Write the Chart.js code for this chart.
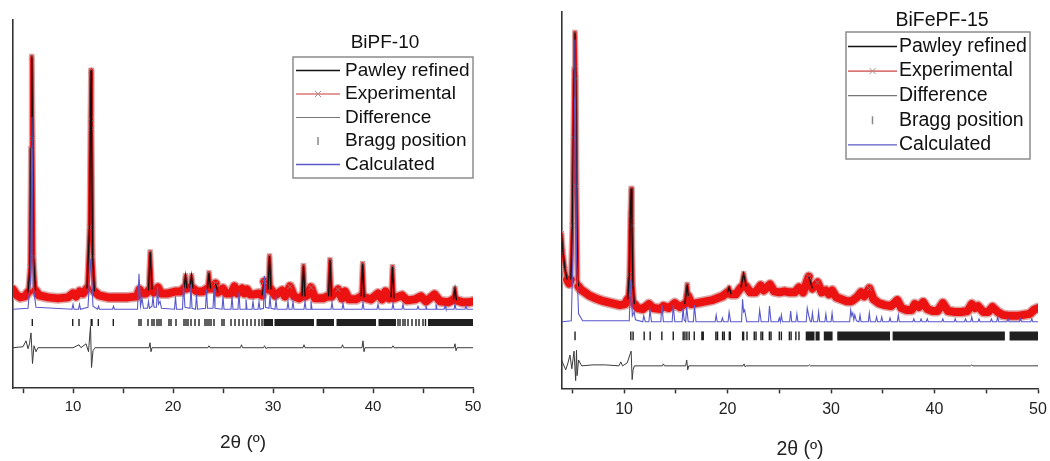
<!DOCTYPE html>
<html>
<head>
<meta charset="utf-8">
<script src="https://cdn.jsdelivr.net/npm/chart.js@4.4.1/dist/chart.umd.min.js"></script>
<style>
  html, body { margin: 0; padding: 0; background: #fff; }
  #wrap { position: relative; width: 1050px; height: 461px; }
  canvas { position: absolute; top: 0; }
  #c-left { left: 0; }
  #c-right { left: 525px; }
</style>
</head>
<body>
<div id="wrap">
  <canvas id="c-left" width="525" height="461"></canvas>
  <canvas id="c-right" width="525" height="461"></canvas>
</div>
<script>
'use strict';

// ---- datos: [2theta, intensidad (u.a.)] ----

var legendLabels = ['Pawley refined', 'Experimental', 'Difference', 'Bragg position', 'Calculated'];
var xTickStep = 5;
var xLabelStep = 10;

// BiPF-10
var bipfExp = [
  [4.0,100],[4.3,95],[4.7,92],[5.2,93],[5.5,97],[5.7,123],[5.8,243],[5.88,336],[5.96,253],[6.05,133],
  [6.25,99],[6.6,94],[7.5,92],[8.5,91],[9.5,92],[10.0,96],[10.3,93],[10.65,98],[11.0,96],[11.4,101],
  [11.65,163],[11.75,273],[11.8,322],[11.86,263],[11.96,133],[12.15,98],[12.6,94],[13.5,92],[14.5,92],
  [15.5,92],[16.4,93],[16.65,100],[16.9,96],[17.3,96],[17.55,99],[17.72,138],[17.9,100],[18.1,97],
  [18.5,102],[18.8,96],[19.5,96],[20.3,98],[20.8,98],[21.1,101],[21.25,114],[21.4,101],[21.7,102],
  [21.85,114],[22.0,101],[22.4,98],[23.0,98],[23.45,101],[23.6,117],[23.75,101],[24.05,101],[24.25,106],
  [24.5,97],[25.0,101],[25.3,96],[25.8,96],[26.15,103],[26.45,96],[26.9,101],[27.15,96],[27.4,100],
  [27.7,95],[28.1,95],[28.6,96],[28.9,94],[29.15,108],[29.4,103],[29.5,100],[29.65,134],[29.8,100],
  [30.2,94],[30.9,99],[31.2,93],[31.7,103],[32.1,93],[32.6,91],[32.9,93],[33.05,124],[33.2,93],
  [33.4,94],[33.8,102],[34.2,91],[35.0,91],[35.45,93],[35.55,93],[35.7,130],[35.85,93],[36.5,100],
  [36.9,91],[37.2,98],[37.6,90],[38.3,90],[38.82,93],[38.97,126],[39.12,92],[39.8,90],[40.5,96],
  [40.9,90],[41.25,98],[41.6,91],[41.8,92],[41.95,123],[42.1,91],[42.9,94],[43.4,89],[44.2,90],
  [44.8,93],[45.3,88],[46.15,95],[46.7,88],[47.5,87],[47.9,89],[48.05,90],[48.2,101],[48.35,89],
  [49.0,87],[49.5,87],[50.0,88]
];
var bipfPawley = bipfExp; // el ajuste coincide con los puntos medidos a esta escala
var bipfCalc = [
  [4.0,80],[5.5,81],[5.78,113],[5.85,243],[5.89,275],[5.94,233],[6.02,103],[6.3,82],[9.9,80],[10.0,85],
  [10.1,80],[10.55,80],[10.65,85],[10.75,80],[11.5,82],[11.7,118],[11.78,131],[11.86,113],[12.0,83],
  [12.45,80],[12.55,83],[12.65,80],[13.95,80],[14.05,83],[14.15,80],[16.45,80],[16.6,116],[16.75,83],
  [16.9,91],[17.05,81],[17.45,81],[17.55,88],[17.65,81],[17.9,83],[18.0,93],[18.1,82],[18.35,82],
  [18.45,103],[18.55,85],[18.7,88],[18.85,81],[20.15,80],[20.25,93],[20.35,80],[20.95,80],[21.05,105],
  [21.2,82],[21.7,81],[21.8,105],[21.9,81],[22.25,80],[22.35,95],[22.45,80],[23.25,81],[23.35,100],
  [23.45,81],[24.0,81],[24.1,101],[24.2,81],[24.9,80],[25.0,93],[25.1,80],[25.8,80],[25.9,93],[26.0,80],
  [26.5,80],[26.6,97],[26.7,80],[27.2,80],[27.3,90],[27.4,80],[27.9,80],[28.0,88],[28.1,80],[28.5,80],
  [28.6,88],[28.7,80],[29.05,81],[29.15,114],[29.25,82],[29.6,81],[29.7,93],[29.8,81],[30.2,80],
  [30.3,90],[30.4,80],[31.4,80],[31.5,88],[31.6,80],[31.9,80],[32.0,88],[32.1,80],[33.1,80],[33.2,88],
  [33.3,80],[33.7,80],[33.8,88],[33.9,80],[35.8,80],[35.9,87],[36.0,80],[36.9,80],[37.0,86],[37.1,80],
  [38.9,80],[39.0,87],[39.1,80],[40.4,80],[40.5,85],[40.6,80],[41.9,80],[42.0,86],[42.1,80],[42.9,80],
  [43.0,85],[43.1,80],[44.4,80],[44.5,83],[44.6,80],[45.2,80],[45.3,83],[45.4,80],[46.2,80],[46.3,85],
  [46.4,80],[47.1,80],[47.2,83],[47.3,80],[48.1,80],[48.2,85],[48.3,80],[49.2,80],[49.3,83],[49.4,80],
  [50.0,80]
];
var bipfDiff = [
  [4.0,41],[5.0,42],[5.3,48],[5.5,40],[5.65,45],[5.8,56],[5.95,25],[6.1,43],[6.3,37],[6.5,41],[10.0,41],
  [10.6,44],[10.8,41],[11.3,45],[11.55,37],[11.75,63],[11.85,21],[12.0,38],[12.2,41],[17.6,41],
  [17.7,46],[17.8,37],[17.9,41],[23.5,41],[23.6,43],[23.7,41],[26.75,41],[26.85,44],[26.95,41],
  [29.05,41],[29.15,43],[29.3,40],[29.4,41],[33.0,41],[33.1,44],[33.2,41],[36.85,41],[36.95,44],
  [37.05,41],[38.9,41],[39.0,48],[39.1,37],[39.2,41],[41.9,41],[42.0,43],[42.1,41],[48.1,41],
  [48.2,45],[48.3,38],[48.4,41],[50.0,41]
];
var bipfBragg = [
  5.93, 9.97, 10.6, 11.82, 11.9, 12.53, 14.03, 16.6, 16.8, 17.5, 17.9, 18.1, 18.4, 18.6, 18.8, 19.6,
  19.8, 20.3, 21.1, 21.3, 21.5, 21.8, 22.2, 22.6, 23.2, 23.4, 23.6, 23.8, 24.1, 24.9, 25.1, 25.8,
  26.2, 26.6, 27.0, 27.4, 27.8, 28.2, 28.6, 28.9, 42.5, 42.7, 43.0, 43.2, 43.5, 43.9, 44.3, 44.6,
  45.0, 45.25
];
var bipfBraggBands = [[29.05, 30.0], [30.15, 34.1], [34.35, 36.1], [36.35, 40.3], [40.55, 42.3], [45.5, 50.0]];
var bipfBraggRange = [63, 70];

// BiFePF-15
var bifepfExp = [
  [3.95,158],[4.1,138],[4.3,121],[4.5,111],[4.7,107],[4.85,111],[5.0,166],[5.1,256],[5.18,326],
  [5.25,363],[5.33,316],[5.4,206],[5.5,111],[5.6,104],[5.8,101],[6.2,98],[6.6,95],[7.2,92],[8.0,89],
  [8.8,87],[9.6,85],[10.1,86],[10.35,91],[10.5,116],[10.6,176],[10.68,204],[10.76,166],[10.85,106],
  [11.0,86],[11.3,82],[11.8,81],[12.4,86],[12.8,82],[13.5,81],[13.8,84],[14.3,82],[14.9,87],[15.4,83],
  [15.85,86],[16.0,96],[16.1,106],[16.2,94],[16.5,86],[17.0,87],[17.5,88],[18.0,89],[18.5,90],[19.0,92],
  [19.5,94],[20.0,98],[20.15,103],[20.35,96],[20.8,96],[21.3,103],[21.55,117],[21.8,104],[22.2,98],
  [22.7,98],[23.2,105],[23.5,100],[24.1,106],[24.5,99],[25.0,98],[25.5,99],[26.0,98],[26.5,98],
  [26.9,103],[27.3,98],[27.85,114],[28.2,102],[28.7,108],[29.1,98],[29.5,100],[29.8,96],[30.1,100],
  [30.5,93],[31.0,91],[31.5,89],[32.0,89],[32.5,93],[32.9,98],[33.2,94],[33.7,102],[34.1,91],[34.6,87],
  [35.2,85],[35.8,84],[36.4,90],[36.8,82],[37.3,80],[37.8,80],[38.1,86],[38.5,83],[38.9,88],[39.3,81],
  [39.8,79],[40.3,79],[40.8,87],[41.3,79],[42.0,78],[42.6,78],[43.2,79],[43.6,86],[43.9,82],[44.2,84],
  [44.7,78],[45.2,78],[45.6,83],[46.1,78],[46.6,75],[47.3,74],[48.0,74],[48.6,75],[49.2,76],[49.6,80],
  [50.0,82]
];
var bifepfPawley = bifepfExp;
var bifepfCalc = [
  [3.95,68],[4.9,69],[5.1,156],[5.2,296],[5.25,356],[5.3,286],[5.4,136],[5.6,76],[6.0,69],[10.5,69],
  [10.65,111],[10.8,74],[10.97,78],[11.1,70],[11.8,68],[11.9,74],[12.05,68],[12.4,68],[12.5,80],
  [12.65,68],[13.55,68],[13.65,85],[13.8,68],[14.65,68],[14.75,85],[14.9,68],[15.6,68],[15.7,82],
  [15.8,70],[15.95,68],[16.05,83],[16.2,68],[16.7,68],[16.8,85],[16.95,68],[18.8,68],[18.9,75],[19.0,68],
  [19.4,68],[19.5,72],[19.6,68],[20.05,68],[20.15,78],[20.3,68],[21.35,68],[21.45,91],[21.55,78],
  [21.65,80],[21.85,68],[23.0,68],[23.1,80],[23.25,68],[23.95,68],[24.05,84],[24.2,68],[24.9,68],
  [25.0,72],[25.1,68],[25.2,75],[25.3,68],[26.0,68],[26.1,79],[26.2,68],[26.6,68],[26.7,76],[26.8,68],
  [27.6,68],[27.7,82],[27.85,74],[28.0,68],[28.1,68],[28.2,77],[28.3,68],[28.7,68],[28.8,78],[28.9,68],
  [29.4,68],[29.5,76],[29.6,68],[30.0,68],[30.1,77],[30.2,68],[31.8,68],[31.9,80],[32.0,74],[32.1,77],
  [32.2,70],[32.3,75],[32.45,69],[32.7,68],[32.8,75],[32.9,68],[33.6,68],[33.7,77],[33.8,68],[34.3,68],
  [34.4,73],[34.5,68],[34.8,68],[34.9,73],[35.0,68],[35.6,68],[35.7,72],[35.8,68],[36.4,68],[36.5,75],
  [36.6,68],[37.9,68],[38.0,71],[38.1,68],[38.6,68],[38.7,71],[38.8,68],[39.2,68],[39.3,71],[39.4,68],
  [40.7,68],[40.8,71],[40.9,68],[41.9,68],[42.0,71],[42.1,68],[42.9,68],[43.0,71],[43.1,68],[43.5,68],
  [43.6,73],[43.7,68],[44.2,68],[44.3,71],[44.4,68],[45.4,68],[45.5,71],[45.6,68],[46.0,68],[46.1,73],
  [46.2,68],[47.0,68],[47.1,71],[47.2,68],[48.2,68],[48.3,71],[48.4,68],[49.3,68],[49.4,71],[49.5,68],
  [50.0,68]
];
var bifepfDiff = [
  [3.95,29],[4.36,19],[4.55,25],[4.77,34],[4.95,20],[5.16,38],[5.32,8],[5.4,39],[5.46,13],[5.6,29],
  [5.9,23],[7.0,24],[8.2,24],[9.5,23],[9.68,27],[9.85,23],[10.3,26],[10.55,34],[10.68,38],[10.78,9],
  [10.87,19],[11.0,23],[13.7,23],[13.8,25],[13.9,23],[15.95,23],[16.05,29],[16.15,19],[16.25,23],
  [21.5,23],[21.6,25],[21.7,22],[21.8,23],[27.8,23],[27.9,24],[28.0,23],[43.5,23],[43.6,24],[43.7,23],
  [50.0,23]
];
var bifepfBragg = [
  5.26, 10.65, 10.87, 11.94, 12.52, 13.65, 14.75, 15.71, 15.88, 16.07, 16.29, 16.78, 17.52, 17.65,
  18.87, 19.03, 19.52, 19.68, 20.17, 20.26, 21.88, 22.58, 22.75, 23.23, 23.39, 24.04, 24.2, 25.0,
  25.2, 25.97, 26.14, 26.6, 26.9
];
var bifepfBraggBands = [[21.39, 21.62], [27.55, 28.4], [28.5, 28.9], [29.3, 30.15], [30.6, 35.7], [35.95, 46.8], [47.25, 50.0]];
var bifepfBraggRange = [49, 58];

// ---- helpers ----
var FONT = '"Liberation Sans", Arial, Helvetica, sans-serif';
Chart.defaults.font.family = FONT;
Chart.defaults.color = '#222';

function toXY(pairs) {
  return pairs.map(function (p) { return { x: p[0], y: p[1] }; });
}

function braggTicks(positions, range) {
  var out = [];
  positions.forEach(function (p) {
    out.push({ x: p, y: range[0] }, { x: p, y: range[1] }, { x: p, y: null });
  });
  return out;
}

function braggBlocks(bands, range) {
  var mid = (range[0] + range[1]) / 2;
  var out = [];
  bands.forEach(function (b) {
    out.push({ x: b[0], y: mid }, { x: b[1], y: mid }, { x: b[1], y: null });
  });
  return out;
}

function steep(ctx) {
  var dx = Math.abs(ctx.p1.x - ctx.p0.x);
  var dy = Math.abs(ctx.p1.y - ctx.p0.y);
  return dy / Math.max(dx, 0.01) > 3;
}

// marcas "x" solo donde el punto sobresale de sus vecinos (picos)
function peakMark(c) {
  var d = c.dataset.data, i = c.dataIndex;
  if (!d[i]) return 0;
  var prev = d[i - 1] ? d[i - 1].y : d[i].y;
  var next = d[i + 1] ? d[i + 1].y : d[i].y;
  return d[i].y - Math.min(prev, next) > 8 ? 3.5 : 0;
}

// leyenda dibujada dentro del area
var xrdLegend = {
  id: 'xrdLegend',
  afterDraw: function (chart, args, o) {
    var ctx = chart.ctx;
    ctx.save();
    ctx.font = o.fontSize + 'px ' + FONT;
    ctx.fillStyle = '#111';
    ctx.textAlign = 'center';
    ctx.textBaseline = 'middle';
    ctx.fillText(o.title, o.titleX, o.titleY);

    ctx.strokeStyle = '#8c8c8c';
    ctx.lineWidth = 1.5;
    ctx.strokeRect(o.box[0], o.box[1], o.box[2], o.box[3]);

    ctx.textAlign = 'left';
    legendLabels.forEach(function (label, i) {
      var y = o.rowY0 + i * o.rowH;
      var x0 = o.sampleX[0], x1 = o.sampleX[1], xm = (x0 + x1) / 2;
      ctx.beginPath();
      if (i === 0) { ctx.strokeStyle = '#111'; ctx.lineWidth = 1.6; ctx.moveTo(x0, y); ctx.lineTo(x1, y); }
      if (i === 1) { ctx.strokeStyle = 'rgb(220,120,120)'; ctx.lineWidth = 1.6; ctx.moveTo(x0, y); ctx.lineTo(x1, y); }
      if (i === 2) { ctx.strokeStyle = '#777'; ctx.lineWidth = 1.2; ctx.moveTo(x0, y); ctx.lineTo(x1, y); }
      if (i === 3) { ctx.strokeStyle = '#888'; ctx.lineWidth = 1.5; ctx.moveTo(xm, y - 4); ctx.lineTo(xm, y + 4); }
      if (i === 4) { ctx.strokeStyle = 'rgb(90,90,200)'; ctx.lineWidth = 1.3; ctx.moveTo(x0, y); ctx.lineTo(x1, y); }
      ctx.stroke();
      if (i === 1) {
        ctx.beginPath();
        ctx.strokeStyle = 'rgb(170,140,140)';
        ctx.lineWidth = 1;
        ctx.moveTo(xm - 3, y - 3); ctx.lineTo(xm + 3, y + 3);
        ctx.moveTo(xm - 3, y + 3); ctx.lineTo(xm + 3, y - 3);
        ctx.stroke();
      }
      ctx.fillStyle = '#111';
      ctx.fillText(label, o.textX, y);
    });
    ctx.restore();
  }
};

function makeChart(canvasId, s) {
  var ctx = document.getElementById(canvasId).getContext('2d');
  return new Chart(ctx, {
    type: 'line',
    data: {
      datasets: [
        { label: 'Calculated', data: toXY(s.calc), borderColor: 'rgb(88,88,205)', borderWidth: 1.1, order: 1 },
        {
          label: 'Pawley refined', data: toXY(s.pawley), borderWidth: 1.3, order: 2,
          borderColor: '#111',
          segment: { borderColor: function (c) { return steep(c) ? '#111' : 'rgba(0,0,0,0)'; } }
        },
        {
          label: 'Experimental marks', data: toXY(s.exp), showLine: false, order: 3,
          pointRadius: peakMark, pointStyle: 'crossRot', pointBorderWidth: 1,
          pointBorderColor: 'rgba(165,120,120,0.85)'
        },
        {
          label: 'Experimental', data: toXY(s.exp), borderColor: 'rgb(236,18,18)', order: 4,
          borderWidth: 8, borderJoinStyle: 'round', borderCapStyle: 'round',
          segment: { borderWidth: function (c) { return steep(c) ? 3.5 : 8; } }
        },
        {
          label: 'Experimental halo', data: toXY(s.exp), borderColor: 'rgba(215,150,150,0.85)', order: 5,
          borderWidth: 11, borderJoinStyle: 'round', borderCapStyle: 'round',
          segment: { borderWidth: function (c) { return steep(c) ? 6 : 11; } }
        },
        { label: 'Difference', data: toXY(s.diff), borderColor: '#3c3c3c', borderWidth: 1, order: 6 },
        {
          label: 'Bragg position', data: braggTicks(s.bragg, s.braggRange), borderColor: '#1e1e1e',
          borderWidth: 1.4, spanGaps: false, order: 7, borderCapStyle: 'butt'
        },
        {
          label: 'Bragg bands', data: braggBlocks(s.bands, s.braggRange), borderColor: '#202020',
          borderWidth: s.braggRange[1] - s.braggRange[0], spanGaps: false, order: 8, borderCapStyle: 'butt'
        }
      ]
    },
    options: {
      responsive: false,
      animation: false,
      devicePixelRatio: 1,
      elements: { point: { radius: 0, hoverRadius: 0 }, line: { tension: 0 } },
      layout: { autoPadding: false, padding: s.padding },
      plugins: {
        legend: { display: false },
        tooltip: { enabled: false },
        xrdLegend: s.legend
      },
      scales: {
        x: {
          type: 'linear', min: 4, max: 50, offset: false,
          afterFit: function (scale) { scale.paddingLeft = 0; scale.paddingRight = 0; },
          grid: { display: true, drawOnChartArea: false, drawTicks: true, tickLength: 5, tickWidth: 1.5, tickColor: '#333' },
          border: { display: true, color: '#333', width: 1.6 },
          ticks: {
            stepSize: xTickStep, autoSkip: false, maxRotation: 0, includeBounds: false,
            padding: s.tickPad, color: '#222', font: { size: s.tickFont },
            callback: function (v) { return v % xLabelStep === 0 ? String(v) : ''; }
          },
          title: { display: true, text: '2\u03b8 (\u00ba)', color: '#222', font: { size: s.titleFont }, padding: { top: s.titlePad, bottom: 0 } }
        },
        y: {
          min: 0, max: s.yMax,
          grid: { display: false, drawTicks: false },
          ticks: { display: false },
          border: { display: true, color: '#333', width: 1.6 }
        }
      }
    },
    plugins: [xrdLegend]
  });
}

makeChart('c-left', {
  exp: bipfExp, pawley: bipfPawley, calc: bipfCalc, diff: bipfDiff,
  bragg: bipfBragg, bands: bipfBraggBands, braggRange: bipfBraggRange,
  yMax: 373,
  padding: { left: 13, right: 52, top: 20, bottom: 7 },
  tickPad: 5, tickFont: 15, titleFont: 19, titlePad: 10,
  legend: {
    title: 'BiPF-10', titleX: 385, titleY: 43, fontSize: 19,
    box: [293, 57, 180, 121], rowY0: 70.5, rowH: 23.5, sampleX: [296, 340], textX: 345
  }
});

makeChart('c-right', {
  exp: bifepfExp, pawley: bifepfPawley, calc: bifepfCalc, diff: bifepfDiff,
  bragg: bifepfBragg, bands: bifepfBraggBands, braggRange: bifepfBraggRange,
  yMax: 384,
  padding: { left: 37, right: 12, top: 12, bottom: 0 },
  tickPad: 7, tickFont: 16, titleFont: 19.5, titlePad: 11,
  legend: {
    title: 'BiFePF-15', titleX: 417, titleY: 21, fontSize: 19.5,
    box: [321, 32, 184, 127], rowY0: 46.5, rowH: 24.6, sampleX: [323, 372], textX: 374
  }
});
</script>
</body>
</html>
